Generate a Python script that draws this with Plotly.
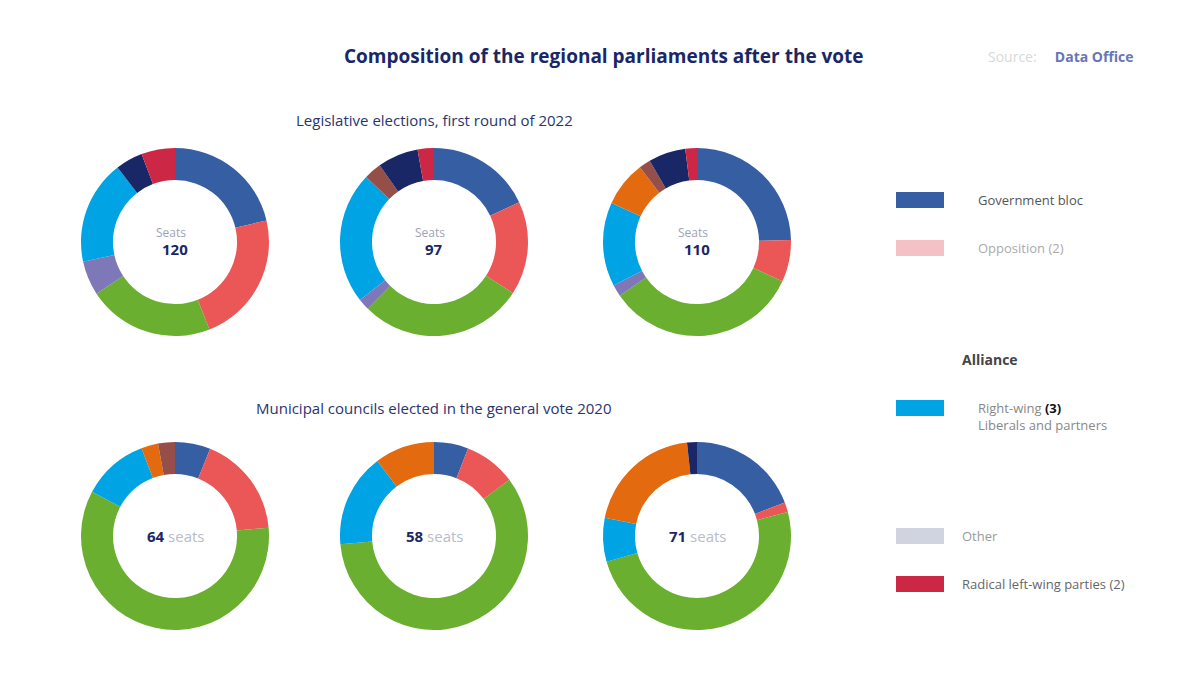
import plotly.graph_objects as go

W, H = 1200, 675

# ---------------- data ----------------
parties = ["Conservatives", "Social Democrats", "Greens", "Left", "Liberals",
           "Centre", "Regionalists", "National Right", "Socialists"]
party_colors = ["#365EA3", "#EB5757", "#6AAF2F", "#7F78B8", "#00A3E3",
                "#E36A0F", "#954F48", "#1A2766", "#CC2846"]

row1_p1 = [21.4, 22.8, 21.8, 5.9, 18.0, 0.0, 0.0, 4.7, 5.8]
row1_p2 = [18.0, 16.1, 28.2, 2.0, 22.7, 0.0, 3.0, 7.0, 2.8]
row1_p3 = [24.7, 7.2, 33.5, 2.0, 14.5, 7.8, 2.0, 6.4, 2.0]
row2_p1 = [6.1, 17.5, 59.2, 0.0, 11.4, 2.9, 2.9, 0.0, 0.0]
row2_p2 = [5.9, 8.9, 58.8, 0.0, 16.1, 10.3, 0.0, 0.0, 0.0]
row2_p3 = [19.2, 1.7, 49.7, 0.0, 7.5, 20.2, 0.0, 1.7, 0.0]

pie_names = ["North", "Centre", "South", "North", "Centre", "South"]
center_top = ["Seats", "Seats", "Seats", "", "", ""]
center_main = ["120", "97", "110", "64", "58", "71"]
center_unit = ["", "", "", "seats", "seats", "seats"]

title_text = "Composition of the regional parliaments after the vote"
row_titles = ["Legislative elections, first round of 2022",
              "Municipal councils elected in the general vote 2020"]
source_label = "Source:"
source_name = "Data Office"

legend_labels = ["Government bloc", "Opposition (2)", "Right-wing", "Liberals and partners",
                 "Other", "Radical left-wing parties (2)"]
legend_colors = ["#365EA3", "#F4C2C6", "#00A3E3", "#D0D3E0", "#CC2846"]
legend_header = "Alliance"

# ---------------- helpers ----------------
OFF = 8  # page body margin


def px(x):
    return (x - OFF) / W


def py(y):
    return 1 - (y - OFF) / H


fig = go.Figure()

series = [row1_p1, row1_p2, row1_p3, row2_p1, row2_p2, row2_p3]
centers_x = [175, 434, 697]
centers_y = [242, 536]
R = 94

for i, vals in enumerate(series):
    cx = centers_x[i % 3]
    cy = centers_y[i // 3]
    fig.add_trace(go.Pie(
        labels=parties, values=vals, name=pie_names[i],
        marker=dict(colors=party_colors, line=dict(color="white", width=0)),
        hole=0.66, sort=False, direction="clockwise", rotation=0,
        textinfo="none", showlegend=False,
        domain=dict(x=[px(cx - R), px(cx + R)], y=[py(cy + R), py(cy - R)]),
        hovertemplate="%{label}: %{value}%<extra>" + pie_names[i] + "</extra>",
    ))
    if center_top[i]:
        fig.add_annotation(x=px(cx - 4), y=py(cy - 9), xref="paper", yref="paper",
                           xanchor="center", yanchor="middle",
                           text=center_top[i], showarrow=False,
                           font=dict(size=12, color="#A0A3B5", family="Open Sans"))
        fig.add_annotation(x=px(cx), y=py(cy + 7), xref="paper", yref="paper",
                           xanchor="center", yanchor="middle",
                           text="<b>" + center_main[i] + "</b>", showarrow=False,
                           font=dict(size=15, color="#1A2766", family="Open Sans"))
    else:
        fig.add_annotation(x=px(cx), y=py(cy), xref="paper", yref="paper",
                           xanchor="center", yanchor="middle",
                           text="<b>" + center_main[i] + "</b> <span style='color:#B8BCCB'>"
                                + center_unit[i] + "</span>",
                           showarrow=False,
                           font=dict(size=15, color="#1A2766", family="Open Sans"))

# title
fig.add_annotation(x=px(604), y=py(56), xref="paper", yref="paper",
                   xanchor="center", yanchor="middle",
                   text="<b>" + title_text + "</b>", showarrow=False,
                   font=dict(size=19, color="#1A2766", family="Open Sans"))
# source (top right)
fig.add_annotation(x=px(1136), y=py(56), xref="paper", yref="paper",
                   xanchor="right", yanchor="middle",
                   text="<span style='color:#D8D8D8'>" + source_label + "</span>     "
                        + "<b>" + source_name + "</b>",
                   showarrow=False, font=dict(size=14, color="#6676B8", family="Open Sans"))
# row titles
for j, t in enumerate(row_titles):
    fig.add_annotation(x=px(434), y=py([120, 408][j]), xref="paper", yref="paper",
                       xanchor="center", yanchor="middle",
                       text=t, showarrow=False,
                       font=dict(size=15, color="#2A3470", family="Open Sans"))

# custom legend
entry_y = [200, 248, 408, 536, 584]
entry_x = [976, 976, 976, 960, 960]
entry_text = [legend_labels[0], legend_labels[1],
              legend_labels[2] + " <b><span style='color:#111111'>(3)</span></b><br>"
              + legend_labels[3],
              legend_labels[4], legend_labels[5]]
entry_text_color = ["#555555", "#AAAAAA", "#888888", "#999999", "#666666"]
for k in range(5):
    y = entry_y[k]
    fig.add_shape(type="rect", xref="paper", yref="paper",
                  x0=px(896), x1=px(944), y0=py(y + 8), y1=py(y - 8),
                  fillcolor=legend_colors[k], line=dict(width=0))
    fig.add_annotation(x=px(entry_x[k]), y=py(y + (8 if k == 2 else 0)),
                       xref="paper", yref="paper",
                       xanchor="left", yanchor="middle", align="left",
                       text=entry_text[k], showarrow=False,
                       font=dict(size=13, color=entry_text_color[k], family="Open Sans"))
fig.add_annotation(x=px(960), y=py(360), xref="paper", yref="paper",
                   xanchor="left", yanchor="middle",
                   text="<b>" + legend_header + "</b>", showarrow=False,
                   font=dict(size=14, color="#444444", family="Open Sans"))

fig.update_layout(width=W, height=H, margin=dict(l=0, r=0, t=0, b=0),
                  paper_bgcolor="white", plot_bgcolor="white",
                  font=dict(family="Open Sans"))

fig.write_html("out.html")
